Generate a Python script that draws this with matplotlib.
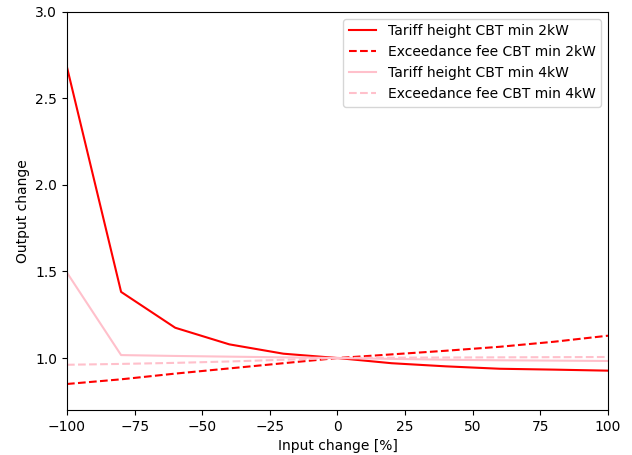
import matplotlib.pyplot as plt

x = [-100, -80, -60, -40, -20, 0, 20, 40, 60, 80, 100]
tariff_2kw = [2.68, 1.382, 1.175, 1.079, 1.025, 1.0, 0.97, 0.952, 0.938, 0.933, 0.927]
exceed_2kw = [0.85, 0.877, 0.91, 0.94, 0.97, 1.0, 1.021, 1.042, 1.065, 1.094, 1.129]
tariff_4kw = [1.493, 1.017, 1.012, 1.008, 1.004, 1.0, 0.995, 0.99, 0.987, 0.985, 0.983]
exceed_4kw = [0.961, 0.966, 0.972, 0.98, 0.99, 1.0, 1.002, 1.003, 1.004, 1.005, 1.006]

fig, ax = plt.subplots(figsize=(6.32, 4.55), dpi=100)
ax.plot(x, tariff_2kw, color='red', linestyle='-', label='Tariff height CBT min 2kW')
ax.plot(x, exceed_2kw, color='red', linestyle='--', label='Exceedance fee CBT min 2kW')
ax.plot(x, tariff_4kw, color='pink', linestyle='-', label='Tariff height CBT min 4kW')
ax.plot(x, exceed_4kw, color='pink', linestyle='--', label='Exceedance fee CBT min 4kW')

ax.set_xlim(-100, 100)
ax.set_ylim(0.7, 3.0)
ax.set_xlabel('Input change [%]')
ax.set_ylabel('Output change')
ax.legend(loc='upper right')

plt.subplots_adjust(left=0.106, right=0.962, top=0.974, bottom=0.099)
plt.savefig('out.png', dpi=100)
plt.close()
